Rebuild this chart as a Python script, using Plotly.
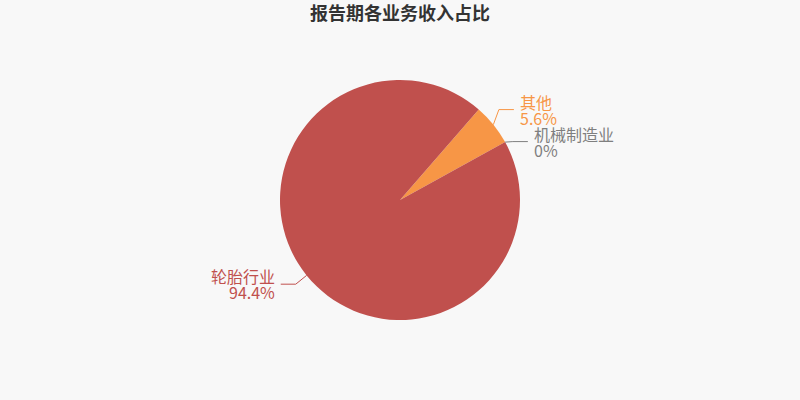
import math
import plotly.graph_objects as go

# ---- data ----
categories = ["其他", "机械制造业", "轮胎行业"]
values = [5.6, 0.0, 94.4]
value_labels = ["5.6%", "0%", "94.4%"]
colors = ["#f79646", "#7f7f7f", "#c0504d"]
title_text = "报告期各业务收入占比"

W, H = 800, 400
CX, CY, R = 400, 200, 120
START = 41  # degrees clockwise from 12 o'clock
FONT = "Noto Sans CJK SC, Noto Sans, sans-serif"

fig = go.Figure(go.Pie(
    labels=categories, values=values, sort=False, direction="clockwise",
    rotation=START, marker=dict(colors=colors, line=dict(width=0)),
    textinfo="none", hoverinfo="label+percent", showlegend=False,
    domain=dict(x=[0, 1], y=[(H / 2 - R) / H, (H / 2 + R) / H]),
))

# ---- label layout computed from values ----
total = sum(values)
ang = START
items = []
for cat, v, lab, col in zip(categories, values, value_labels, colors):
    mid = ang + 360 * v / total / 2
    ang += 360 * v / total
    a = math.radians(mid)
    px, py = CX + R * math.sin(a), CY - R * math.cos(a)
    ey = CY - 134 * math.cos(a)
    items.append(dict(cat=cat, lab=lab, col=col, a=a, px=px, py=py, ey=ey,
                      right=math.sin(a) >= 0))

# simple overlap resolution on each side
for side in (True, False):
    grp = sorted([it for it in items if it["right"] == side], key=lambda d: d["ey"])
    for i in range(1, len(grp)):
        gap = grp[i]["ey"] - grp[i - 1]["ey"]
        if gap < 32:
            d = (32 - gap) / 2
            grp[i - 1]["ey"] -= d
            grp[i]["ey"] += d

shapes, annotations = [], []
def X(p): return p / W
def Y(p): return 1 - p / H

for it in items:
    dy = it["ey"] - CY
    ex = CX + (1 if it["right"] else -1) * math.sqrt(max(134 ** 2 - dy ** 2, 0))
    ex = (ex + it["px"]) / 2 if abs(it["py"] - it["ey"]) < 6 else ex
    hx = ex + (15 if it["right"] else -15)
    for (x0, y0, x1, y1) in [(it["px"], it["py"], ex, it["ey"]), (ex, it["ey"], hx, it["ey"])]:
        shapes.append(dict(type="line", xref="paper", yref="paper",
                           x0=X(x0), y0=Y(y0), x1=X(x1), y1=Y(y1),
                           line=dict(color=it["col"], width=1)))
    tx = hx + (4 if it["right"] else -4)
    anchor = "left" if it["right"] else "right"
    for txt, off in [(it["cat"], -8), (it["lab"], 8)]:
        annotations.append(dict(xref="paper", yref="paper", x=X(tx), y=Y(it["ey"] + off),
                                text=txt, showarrow=False, xanchor=anchor, yanchor="middle",
                                align=anchor, font=dict(size=16, color=it["col"], family=FONT)))

fig.update_layout(
    width=W, height=H, margin=dict(l=0, r=0, t=0, b=0),
    paper_bgcolor="#f8f8f8", plot_bgcolor="#f8f8f8",
    title=dict(text="<b>" + title_text + "</b>", x=0.5, xanchor="center",
               y=1 - 14 / H, yanchor="middle", yref="container",
               font=dict(size=18, color="#333333", family=FONT)),
    shapes=shapes, annotations=annotations,
)
fig.write_html("out.html", config={"displayModeBar": False},
               post_script="document.body.style.margin='0';"
                           "document.body.style.background='#f8f8f8';")
